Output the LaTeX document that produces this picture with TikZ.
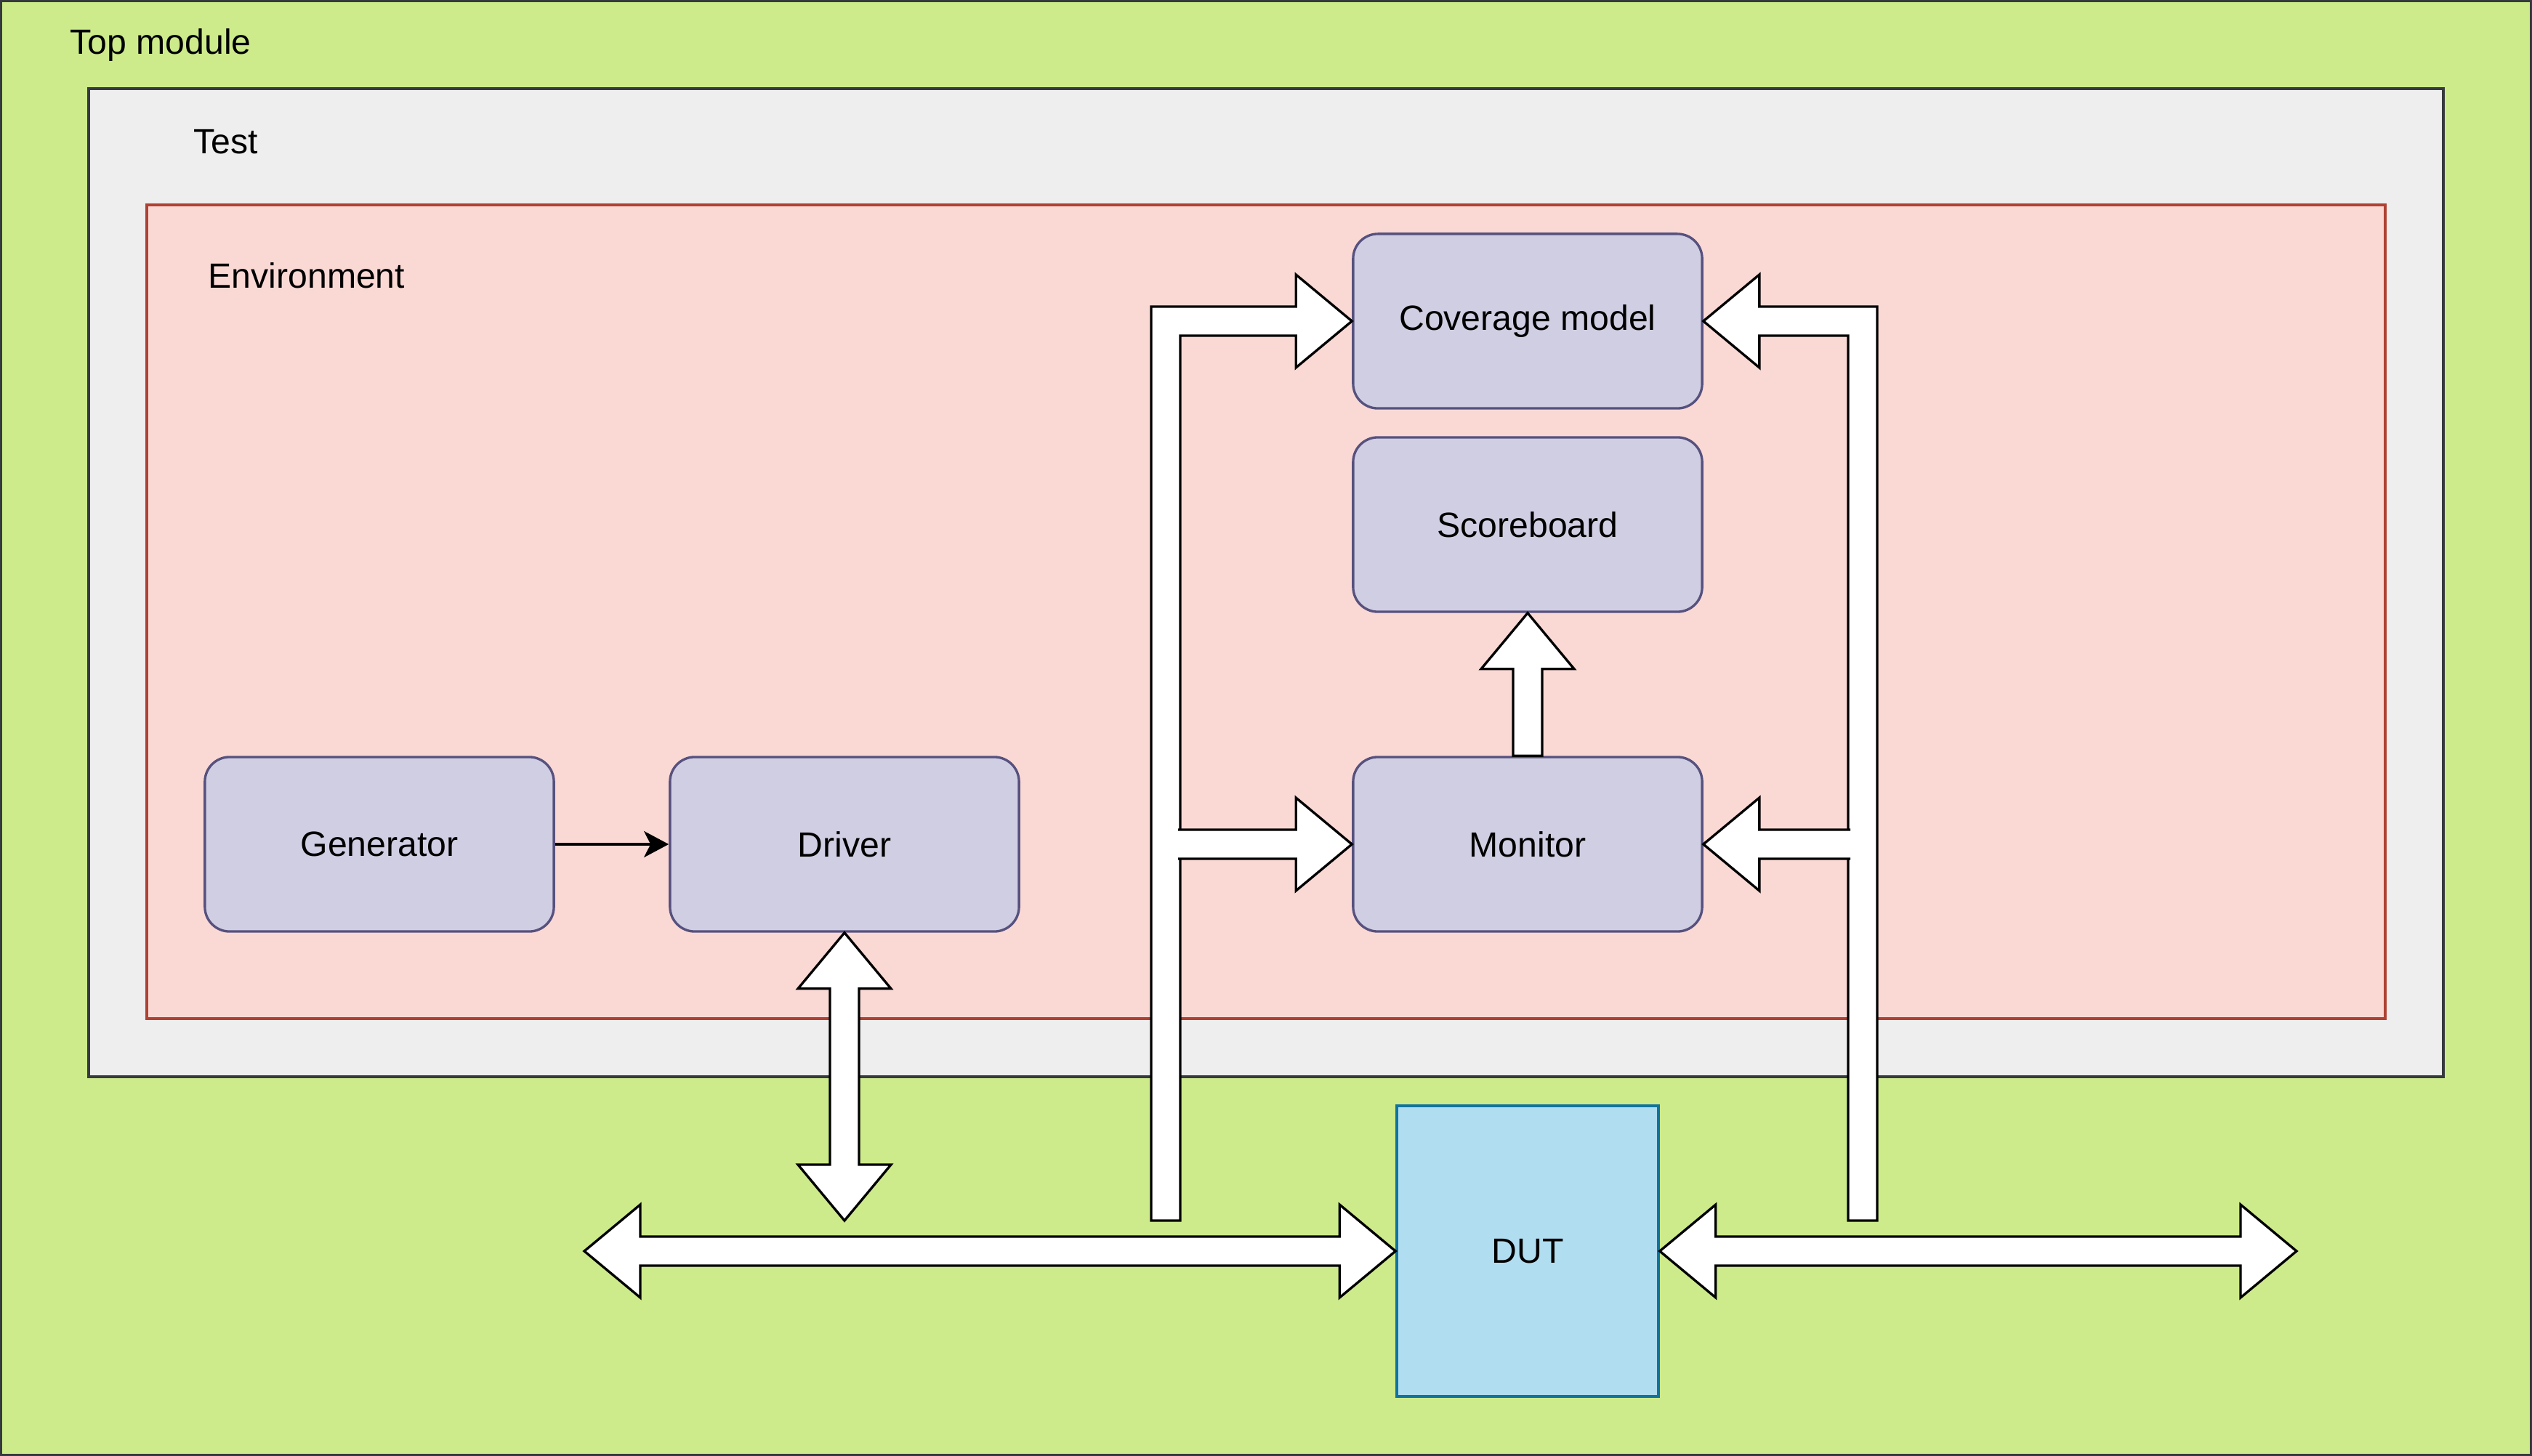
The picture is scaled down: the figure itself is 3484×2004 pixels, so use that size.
\documentclass[tikz,border=0pt]{standalone}
\usepackage{fontspec}
\setmainfont{Liberation Sans}
\usepackage{xcolor}
\definecolor{topfill}{HTML}{CDEB8B}
\definecolor{darkline}{HTML}{36393D}
\definecolor{testfill}{HTML}{EEEEEE}
\definecolor{envfill}{HTML}{FAD9D5}
\definecolor{envline}{HTML}{AE4132}
\definecolor{blockfill}{HTML}{D0CEE2}
\definecolor{blockline}{HTML}{56517E}
\definecolor{dutfill}{HTML}{B1DDF0}
\definecolor{dutline}{HTML}{10739E}
\usetikzlibrary{arrows.meta, calc}

\begin{document}
\begin{tikzpicture}[
    x=0.01cm, y=-0.01cm,
    font=\fontsize{13.7}{16}\selectfont,
    box/.style={draw=blockline, fill=blockfill, line width=0.95pt, rounded corners=0.34cm,
        minimum width=4.8cm, minimum height=2.4cm},
    frame/.style={line width=0.95pt},
    fat/.style={draw=black, fill=white, line width=0.95pt},
    title/.style={anchor=base west, inner sep=0pt}
    ]
    
    \useasboundingbox (0,0) rectangle (3484,2004);
    \draw[frame, fill=topfill, draw=darkline] (1.5,1.5) rectangle (3482.5,2002.5);
    \draw[frame, fill=testfill, draw=darkline] (122,122) rectangle (3362,1482);
    \draw[frame, fill=envfill, draw=envline] (202,282) rectangle (3282,1402);
    \node[title] (toplbl) at (96,75) {Top module};
    \node[title] (testlbl) at (266,212) {Test};
    \node[title] (envlbl) at (286,397) {Environment};
    
    \node[box] (gen) at (522,1162) {Generator};
    \node[box] (drv) at (1162,1162) {Driver};
    \node[box] (cov) at (2102,442) {Coverage model};
    \node[box] (sb) at (2102,722) {Scoreboard};
    \node[box] (mon) at (2102,1162) {Monitor};
    \node[frame, draw=dutline, fill=dutfill, minimum width=3.6cm,
        minimum height=4cm] (dut) at (2102,1722) {DUT};
    
    \coordinate (busl) at (804,1722);
    \coordinate (busr) at (3160,1722);
    \coordinate (drvbus) at (1162,1680);
    \coordinate (lbot) at (1604,1680);
    \coordinate (rbot) at (2563,1680);
    \coordinate (lmon) at (lbot |- mon.west);
    \coordinate (rmon) at (rbot |- mon.east);
    
    \draw[-{Stealth[length=0.34cm, width=0.36cm, inset=0.09cm]}, line width=1.1pt] (gen) -- (drv);
    
    \draw[fat] (drv.south) -- ++(64,77) -- ++(-44,0) -- ($(drvbus)+(20,-77)$) -- ++(44,0)
        -- (drvbus) -- ++(-64,-77) -- ++(44,0) -- ($(drv.south)+(-20,77)$) -- ++(-44,0) -- cycle;
    \draw[fat] (busl) -- ++(77,-64) -- ++(0,44) -- ($(dut.west)+(-77,-20)$) -- ++(0,-44)
        -- (dut.west) -- ++(-77,64) -- ++(0,-44) -- ($(busl)+(77,20)$) -- ++(0,44) -- cycle;
    \draw[fat] (dut.east) -- ++(77,-64) -- ++(0,44) -- ($(busr)+(-77,-20)$) -- ++(0,-44)
        -- (busr) -- ++(-77,64) -- ++(0,-44) -- ($(dut.east)+(77,20)$) -- ++(0,44) -- cycle;
    
    \draw[fat] ($(lbot)+(-20,0)$) |- ($(cov.west)+(-77,-20)$) -- ++(0,-44) -- (cov.west)
        -- ++(-77,64) -- ++(0,-44) -| ($(lbot)+(20,0)$) -- cycle;
    \draw[fat] ($(rbot)+(20,0)$) |- ($(cov.east)+(77,-20)$) -- ++(0,-44) -- (cov.east)
        -- ++(77,64) -- ++(0,-44) -| ($(rbot)+(-20,0)$) -- cycle;
    
    \draw[fat] ($(lmon)+(17,-20)$) -- ($(mon.west)+(-77,-20)$) -- ++(0,-44) -- (mon.west)
        -- ++(-77,64) -- ++(0,-44) -- ($(lmon)+(17,20)$);
    \draw[fat] ($(rmon)+(-17,-20)$) -- ($(mon.east)+(77,-20)$) -- ++(0,-44) -- (mon.east)
        -- ++(77,64) -- ++(0,-44) -- ($(rmon)+(-17,20)$);
    \draw[fat] (sb.south) -- ++(64,77) -- ++(-44,0) -- ($(mon.north)+(20,0)$)
        -- ($(mon.north)+(-20,0)$) -- ($(sb.south)+(-20,77)$) -- ++(-44,0) -- cycle;
\end{tikzpicture}
\end{document}
